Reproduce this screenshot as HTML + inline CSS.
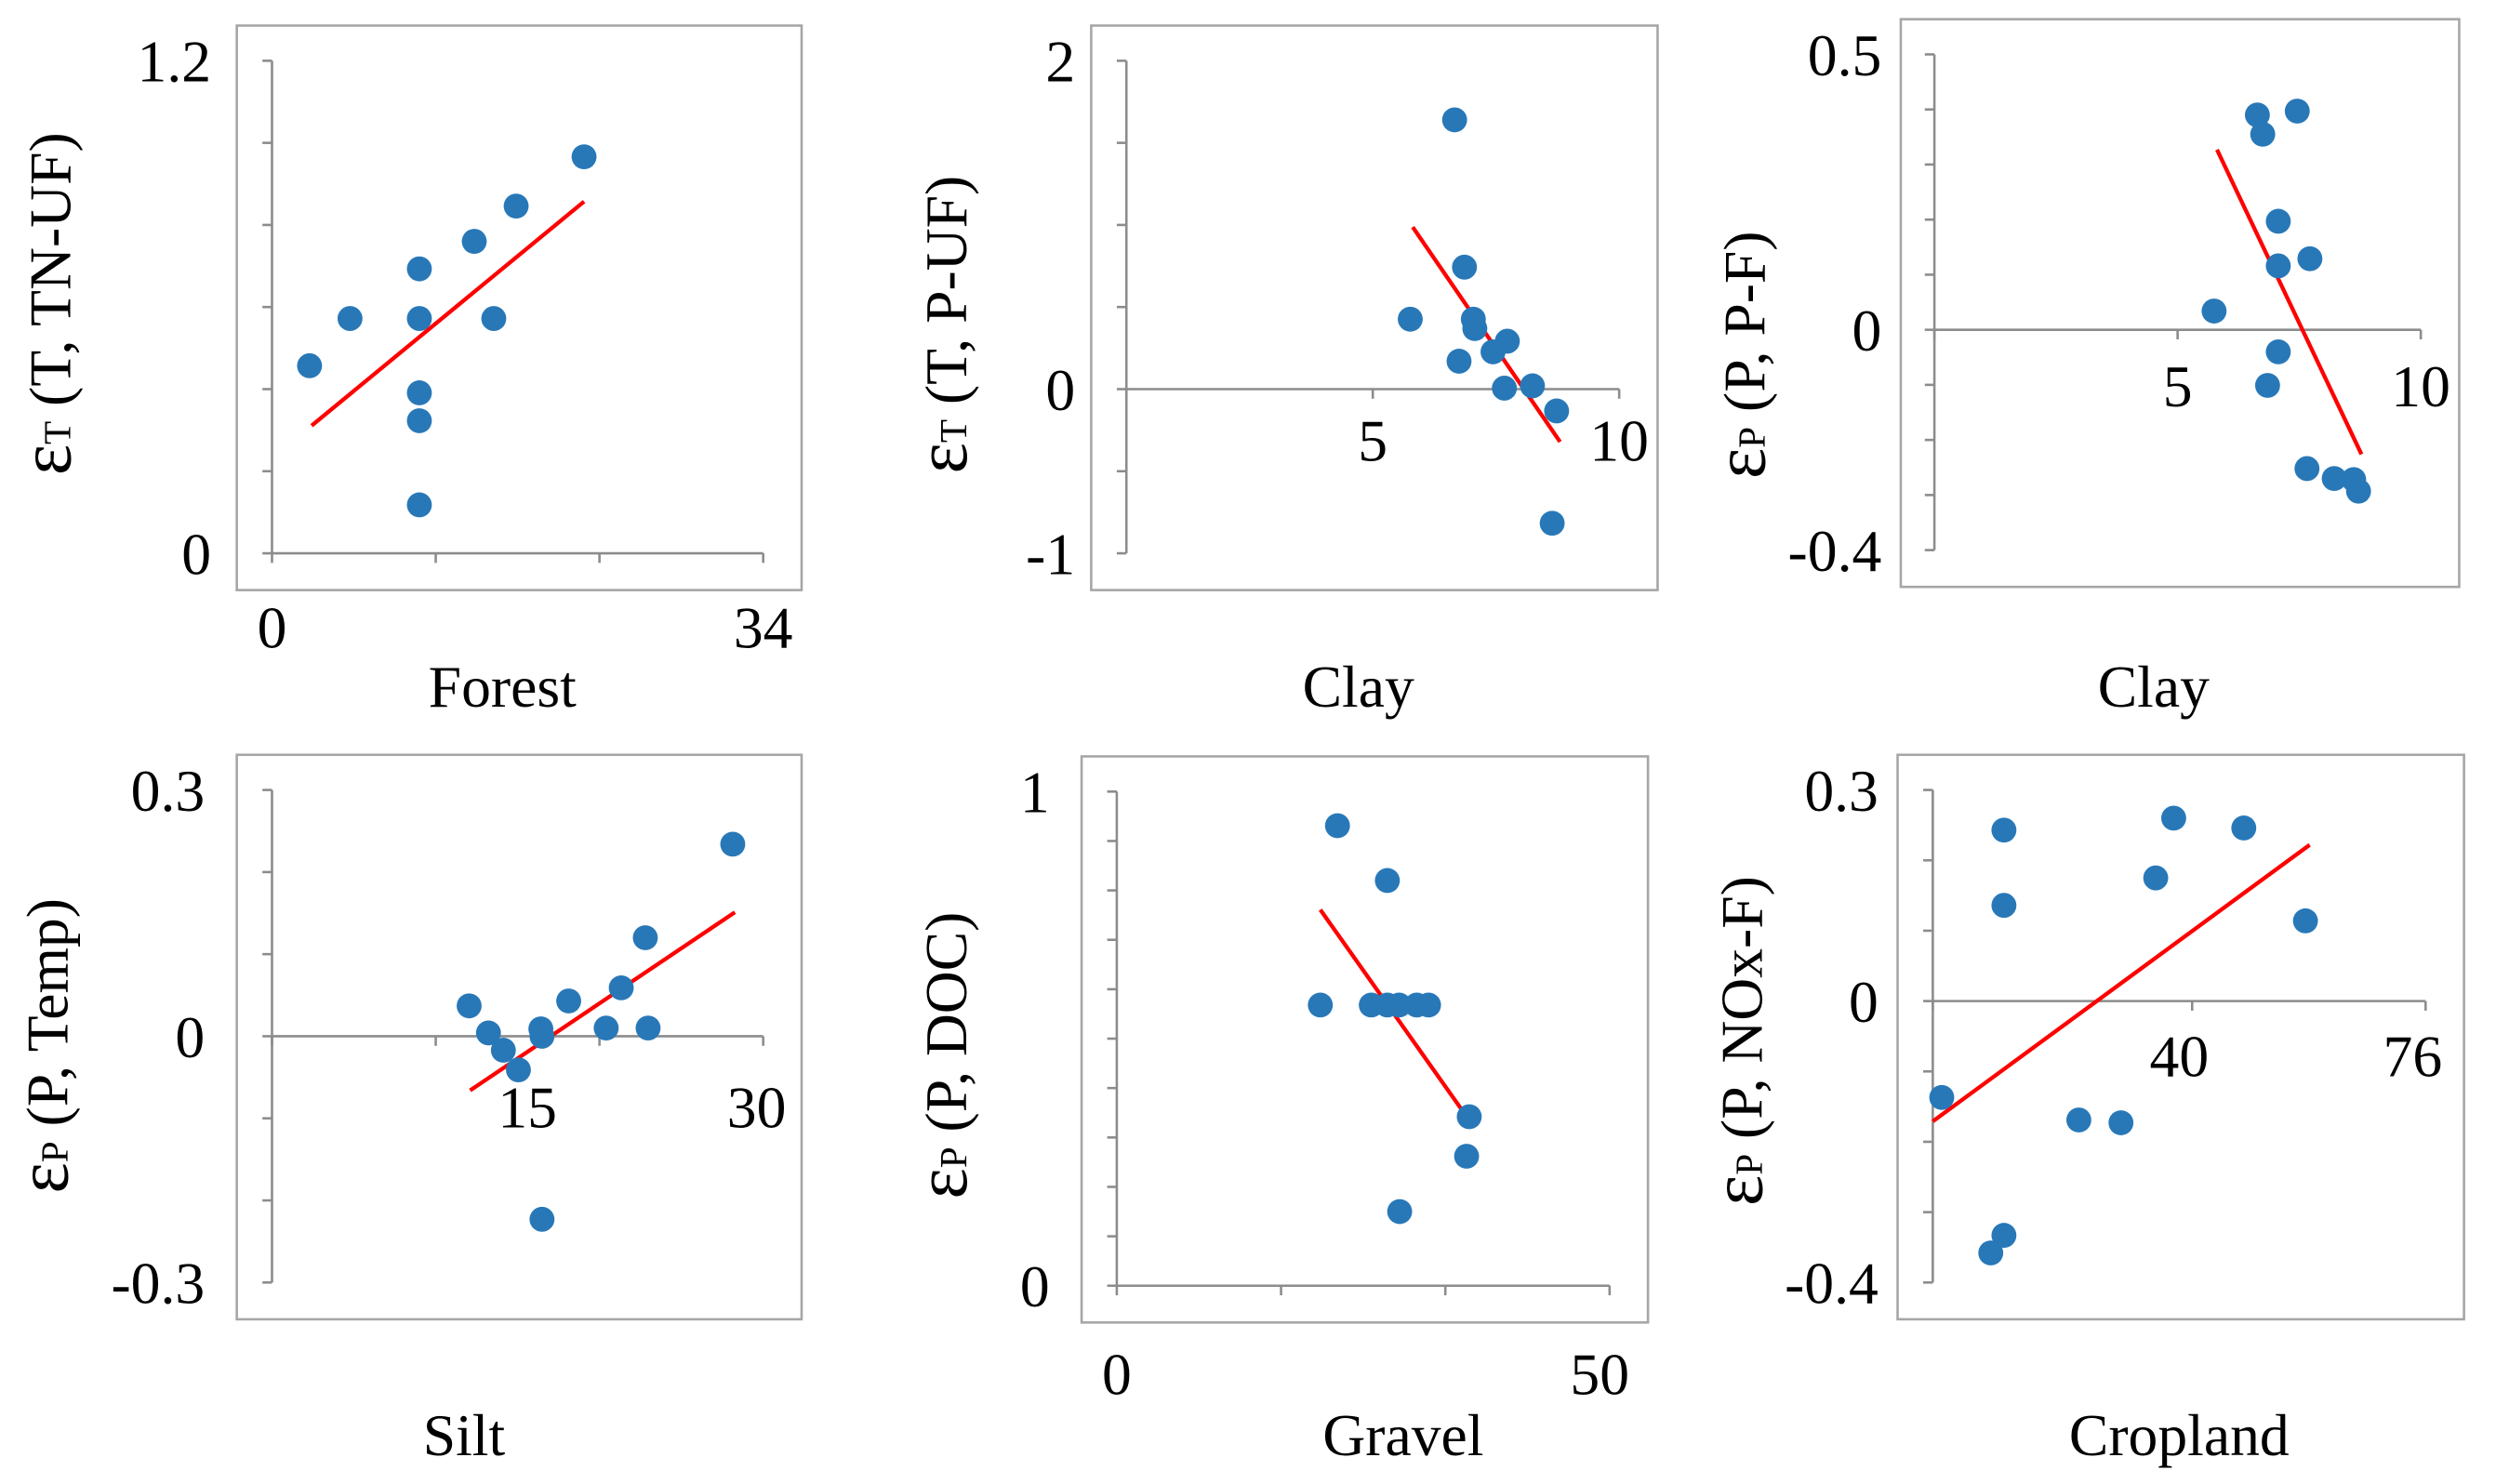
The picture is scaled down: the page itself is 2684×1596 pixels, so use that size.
<!DOCTYPE html>
<html><head><meta charset="utf-8"><style>
html,body{margin:0;padding:0;background:#fff;}
svg{display:block;}
svg text, svg tspan{font-family:"Liberation Serif","Times New Roman","DejaVu Serif",serif;fill:#000;}
</style></head><body>
<svg id="fig" width="2684" height="1596" viewBox="0 0 1560 928" preserveAspectRatio="none" xmlns="http://www.w3.org/2000/svg" font-family="Liberation Serif, serif"></svg>
<script>
// ---- data ----
const p1x=[2.6,5.4,10.2,10.2,10.2,10.2,10.2,14.0,15.35,16.9,21.6];
const p1y=[0.457,0.572,0.693,0.572,0.391,0.323,0.118,0.760,0.572,0.846,0.966];
const p1line=[[2.74,0.311],[21.6,0.857]];
const p2x=[6.66,5.76,6.86,6.75,7.04,7.07,7.44,7.73,7.67,8.24,8.73,8.64];
const p2y=[1.64,0.426,0.743,0.170,0.426,0.369,0.227,0.292,0.006,0.020,-0.133,-0.817];
const p2line=[[5.81,0.987],[8.80,-0.321]];
const p3x=[6.64,7.46,6.75,7.07,7.72,7.07,5.75,7.07,6.85,7.66,8.22,8.62,8.72];
const p3y=[0.390,0.397,0.355,0.197,0.129,0.116,0.034,-0.040,-0.101,-0.252,-0.270,-0.272,-0.293];
const p3line=[[5.81,0.327],[8.78,-0.226]];
const p4x=[12.04,13.22,14.13,15.05,16.42,16.49,18.12,20.41,21.33,22.80,22.97,28.14,16.49];
const p4y=[0.037,0.004,-0.017,-0.041,0.009,0.000,0.043,0.010,0.059,0.120,0.010,0.234,-0.223];
const p4line=[[12.10,-0.066],[28.27,0.151]];
const p5x=[22.39,27.45,20.65,25.82,27.45,28.64,30.43,31.63,35.76,35.49,28.70];
const p5y=[0.931,0.820,0.568,0.568,0.568,0.568,0.568,0.568,0.342,0.262,0.150];
const p5line=[[20.65,0.761],[36.14,0.324]];
const p6x=[10.97,10.97,1.38,8.94,10.97,22.52,29.02,34.38,37.15,47.96,57.47];
const p6y=[0.243,0.136,-0.137,-0.358,-0.333,-0.169,-0.173,0.175,0.260,0.246,0.114];
const p6line=[[0,-0.171],[58.12,0.222]];

// ---- layout (pixels, not data) ----
const NS="http://www.w3.org/2000/svg";
const FONT='"Liberation Serif","Times New Roman","DejaVu Serif",serif';
const svg=document.getElementById('fig');
function mk(tag,attrs,parent){const e=document.createElementNS(NS,tag);for(const k in attrs)e.setAttribute(k,attrs[k]);(parent||svg).appendChild(e);return e;}

const panels=[
 {id:1,frame:[148,16,501,369],ax:170,ay0:38,ay1:346,xa:170,xb:477,xmin:0,xmax:34,ymin:0,ymax:1.2,ystep:0.2,xticks:[0,34/3,68/3,34],
  yl:[[1.2,"1.2"],[0,"0"]],ylx:132,xl:[[0,"0"],[34,"34"]],xly:392,title:"Forest",tx:314,ty:430,sym:"T",rest:" (T, TN-UF)",ytx:32,yty:190,X:p1x,Y:p1y,L:p1line},
 {id:2,frame:[682,16,1036,369],ax:704,ay0:38,ay1:346,xa:704,xb:1012,xmin:0,xmax:10,ymin:-1,ymax:2,ystep:0.5,xticks:[0,5,10],
  yl:[[2,"2"],[0,"0"],[-1,"-1"]],ylx:672,xl:[[5,"5"],[10,"10"]],xly:275,title:"Clay",tx:849,ty:430,sym:"T",rest:" (T, P-UF)",ytx:592,yty:203,X:p2x,Y:p2y,L:p2line},
 {id:3,frame:[1188,12,1537,367],ax:1209,ay0:34,ay1:344,xa:1209,xb:1513,xmin:0,xmax:10,ymin:-0.4,ymax:0.5,ystep:0.1,xticks:[0,5,10],
  yl:[[0.5,"0.5"],[0,"0"],[-0.4,"-0.4"]],ylx:1176,xl:[[5,"5"],[10,"10"]],xly:241,title:"Clay",tx:1346,ty:430,sym:"P",rest:" (P, P-F)",ytx:1091,yty:222,X:p3x,Y:p3y,L:p3line},
 {id:4,frame:[148,472,501,825],ax:170,ay0:494,ay1:802,xa:170,xb:477,xmin:0,xmax:30,ymin:-0.3,ymax:0.3,ystep:0.1,xticks:[0,10,20,30],
  yl:[[0.3,"0.3"],[0,"0"],[-0.3,"-0.3"]],ylx:128,xl:[[15.6,"15"],[29.6,"30"]],xly:692,title:"Silt",tx:290,ty:898,sym:"P",rest:" (P, Temp)",ytx:30,yty:654,X:p4x,Y:p4y,L:p4line},
 {id:5,frame:[676,473,1030,827],ax:698,ay0:495,ay1:804,xa:698,xb:1006,xmin:0,xmax:50,ymin:0,ymax:1,ystep:0.1,xticks:[0,50/3,100/3,50],
  yl:[[1,"1"],[0,"0"]],ylx:656,xl:[[0,"0"],[49,"50"]],xly:859,title:"Gravel",tx:877,ty:898,sym:"P",rest:" (P, DOC)",ytx:592,yty:660,X:p5x,Y:p5y,L:p5line},
 {id:6,frame:[1186,472,1540,825],ax:1208,ay0:494,ay1:802,xa:1208,xb:1516,xmin:0,xmax:76,ymin:-0.4,ymax:0.3,ystep:0.1,xticks:[0,40,76],
  yl:[[0.3,"0.3"],[0,"0"],[-0.4,"-0.4"]],ylx:1174,xl:[[38,"40"],[74,"76"]],xly:660,title:"Cropland",tx:1362,ty:898,sym:"P",rest:" (P, NOx-F)",ytx:1089,yty:651,X:p6x,Y:p6y,L:p6line}
];
const AX="#8c8c8c";
panels.forEach(p=>{
  const g=mk('g',{});
  
  
  const sx=v=>p.xa+(v-p.xmin)/(p.xmax-p.xmin)*(p.xb-p.xa);
  const sy=v=>p.ay1-(v-p.ymin)/(p.ymax-p.ymin)*(p.ay1-p.ay0);
  const fr=mk('rect',{x:p.frame[0],y:p.frame[1],width:p.frame[2]-p.frame[0],height:p.frame[3]-p.frame[1],fill:'none',stroke:'#a6a6a6','stroke-width':1.5},g);
  
  
  const ya=mk('line',{x1:p.ax,y1:p.ay0,x2:p.ax,y2:p.ay1,stroke:AX,'stroke-width':1.5},g);
  
  
  const n=Math.round((p.ymax-p.ymin)/p.ystep);
  for(let i=0;i<=n;i++){const yy=sy(p.ymin+i*p.ystep);mk('line',{x1:p.ax-6,y1:yy,x2:p.ax,y2:yy,stroke:AX,'stroke-width':1.5},g);}
  const y0=sy(Math.max(0,p.ymin));
  const xa=mk('line',{x1:p.xa,y1:y0,x2:p.xb,y2:y0,stroke:AX,'stroke-width':1.5},g);
  
  
  p.xticks.forEach(t=>{const xx=sx(t);mk('line',{x1:xx,y1:y0,x2:xx,y2:y0+6,stroke:AX,'stroke-width':1.5},g);});
  p.yl.forEach(([v,s])=>{const t=mk('text',{x:p.ylx,y:sy(v)+13,'font-size':37,'text-anchor':'end','font-family':FONT},g);t.textContent=s;
    
    });
  p.xl.forEach(([v,s])=>{const t=mk('text',{x:sx(v),y:p.xly+13,'font-size':37,'text-anchor':'middle','font-family':FONT},g);t.textContent=s;
    
    });
  const tt=mk('text',{x:p.tx,y:p.ty+12,'font-size':37,'text-anchor':'middle','font-family':FONT},g);tt.textContent=p.title;
  
  
  const yt=mk('text',{x:0,y:0,'text-anchor':'middle','font-family':FONT,transform:`translate(${p.ytx+12},${p.yty}) rotate(-90)`},g);
  
  
  const a=mk('tspan',{'font-size':46,'font-family':FONT},yt);a.textContent='ε';
  const b=mk('tspan',{'font-size':24,'font-family':FONT},yt);b.textContent=p.sym;
  const c=mk('tspan',{'font-size':37,'font-family':FONT},yt);c.textContent=p.rest;
  const ln=mk('line',{x1:sx(p.L[0][0]),y1:sy(p.L[0][1]),x2:sx(p.L[1][0]),y2:sy(p.L[1][1]),stroke:'#ff0000','stroke-width':2.5},g);
  
  
  p.X.forEach((xv,i)=>{const c2=mk('circle',{cx:sx(xv),cy:sy(p.Y[i]),r:7.8,fill:'#2878b8'},g);
    
    });
});
</script>
</body></html>
